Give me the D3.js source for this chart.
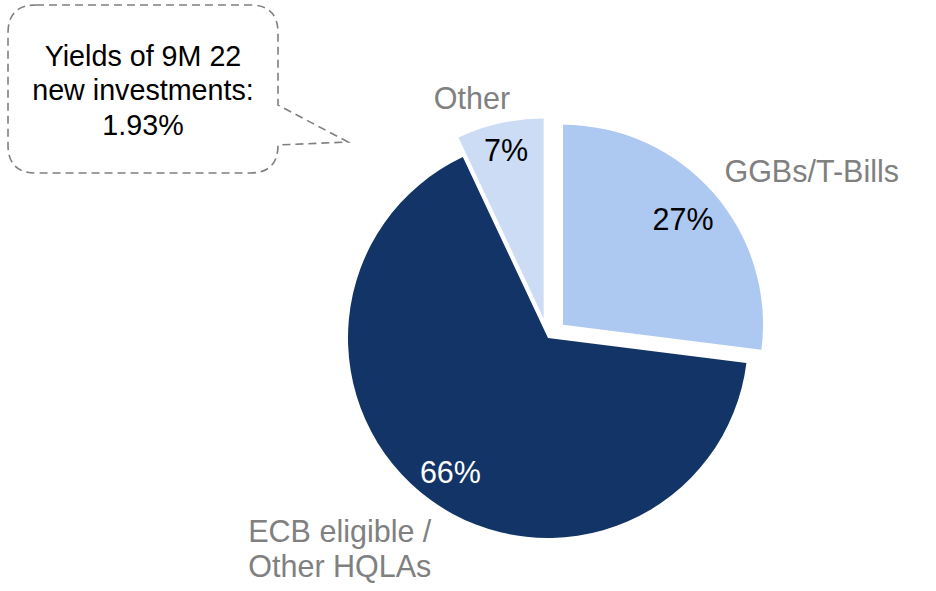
<!DOCTYPE html>
<html>
<head>
<meta charset="utf-8">
<script src="https://cdn.jsdelivr.net/npm/d3@7"></script>
<style>
  html, body { margin: 0; padding: 0; background: #ffffff; }
  svg { display: block; }
  text { font-family: "Liberation Sans", Arial, sans-serif; }
</style>
</head>
<body>
<svg id="chart" width="936" height="591"></svg>
<script>
// ---- Data ----
const categories = ["GGBs/T-Bills", "ECB eligible / Other HQLAs", "Other"];
const values = [27, 66, 7];
const valueLabels = ["27%", "66%", "7%"];
const outerLabelLines = [["GGBs/T-Bills"], ["ECB eligible /", "Other HQLAs"], ["Other"]];
const calloutLines = ["Yields of 9M 22", "new investments:", "1.93%"];

// ---- Style ----
const colors = ["#adc8f1", "#123466", "#cbdcf4"];
const innerTextColors = ["#000000", "#ffffff", "#000000"];
const explode = [20, 0, 20];
const innerLabelRadiusFactor = [0.80, 0.83, 0.86];
// outer label placement: [angle in degrees (clockwise from 12 o'clock), distance from slice centre]
const outerLabelPlacement = [[58.4, 292], [224.7, 296], [-18, 232]];

const svg = d3.select("#chart");
const cx = 548, cy = 338, radius = 200;
const fontSize = 30.5;

const pie = d3.pie().sort(null).value(d => d)
  .startAngle(0).endAngle(2 * Math.PI);
const arcs = pie(values);
const arc = d3.arc().innerRadius(0).outerRadius(radius);

const g = svg.append("g").attr("transform", `translate(${cx},${cy})`);

const slices = g.selectAll("g.slice")
  .data(arcs)
  .join("g")
  .attr("class", "slice")
  .attr("transform", (d, i) => {
    const mid = (d.startAngle + d.endAngle) / 2;
    const [ox, oy] = d3.pointRadial(mid, explode[i]);
    return `translate(${ox},${oy})`;
  });

slices.append("path")
  .attr("d", arc)
  .attr("fill", (d, i) => colors[i]);

// inner value labels
slices.append("text")
  .attr("transform", (d, i) => {
    const mid = (d.startAngle + d.endAngle) / 2;
    const [x, y] = d3.pointRadial(mid, radius * innerLabelRadiusFactor[i]);
    return `translate(${x},${y})`;
  })
  .attr("text-anchor", "middle")
  .attr("dy", "0.35em")
  .attr("font-size", fontSize)
  .attr("fill", (d, i) => innerTextColors[i])
  .text((d, i) => valueLabels[i]);

// outer category labels
slices.each(function(d, i) {
  const [ang, dist] = outerLabelPlacement[i];
  const [x, y] = d3.pointRadial(ang * Math.PI / 180, dist);
  const lines = outerLabelLines[i];
  const lineH = 35;
  const t = d3.select(this).append("text")
    .attr("text-anchor", "middle")
    .attr("font-size", fontSize)
    .attr("fill", "#808080");
  lines.forEach((ln, k) => {
    t.append("tspan")
      .attr("x", x)
      .attr("y", y + (k - (lines.length - 1) / 2) * lineH)
      .attr("dy", "0.35em")
      .text(ln);
  });
});

// ---- Callout ----
const bx0 = 8, by0 = 5, bx1 = 278, by1 = 173, rr = 28;
const tip = [348, 142];
const calloutPath = [
  `M${bx0 + rr},${by0}`,
  `L${bx1 - rr},${by0}`,
  `Q${bx1},${by0} ${bx1},${by0 + rr}`,
  `L${bx1},${105}`,
  `L${tip[0]},${tip[1]}`,
  `L${bx1},${145}`,
  `L${bx1},${by1 - rr}`,
  `Q${bx1},${by1} ${bx1 - rr},${by1}`,
  `L${bx0 + rr},${by1}`,
  `Q${bx0},${by1} ${bx0},${by1 - rr}`,
  `L${bx0},${by0 + rr}`,
  `Q${bx0},${by0} ${bx0 + rr},${by0}`,
  "Z"
].join(" ");

svg.append("path")
  .attr("d", calloutPath)
  .attr("fill", "none")
  .attr("stroke", "#7f7f7f")
  .attr("stroke-width", 1.6)
  .attr("stroke-dasharray", "8,5");

const ct = svg.append("text")
  .attr("text-anchor", "middle")
  .attr("font-size", 28.7)
  .attr("fill", "#000000");
calloutLines.forEach((ln, k) => {
  ct.append("tspan")
    .attr("x", 143)
    .attr("y", 66 + k * 34.3)
    .text(ln);
});
</script>
</body>
</html>
